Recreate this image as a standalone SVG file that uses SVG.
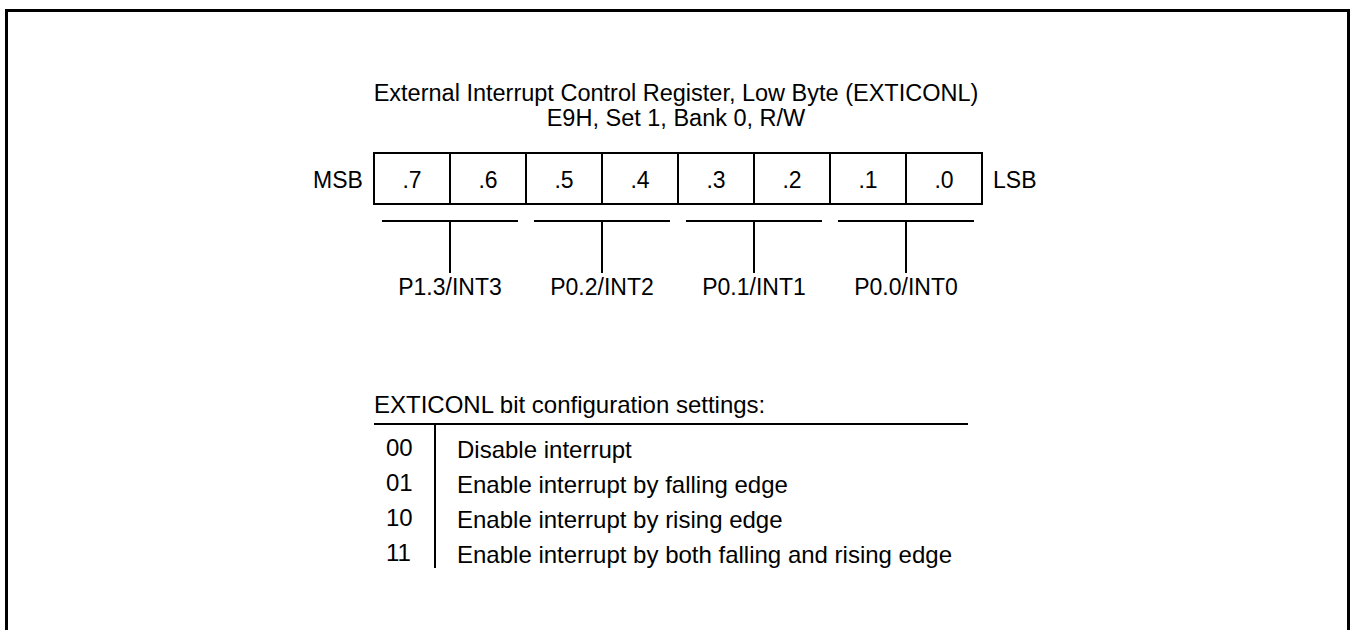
<svg xmlns="http://www.w3.org/2000/svg" width="1355" height="630" viewBox="0 0 1355 630">
<style>
text{font-family:"Liberation Sans",Arial,sans-serif;font-size:23px;fill:#000}
.c{text-anchor:middle}
.t{font-size:24px}
.ln{stroke:#000;stroke-width:2;fill:none}
</style>
<rect width="1355" height="630" fill="#fff"/>
<path d="M6.5,640 V10.5 H1348.5 V640" fill="none" stroke="#000" stroke-width="3"/>
<g id="title">
<text class="c" x="676" y="101" style="font-size:23.5px">External Interrupt Control Register, Low Byte (EXTICONL)</text>
<text class="c" x="676" y="126" style="font-size:23.5px">E9H, Set 1, Bank 0, R/W</text>
</g>
<g id="register">
<rect class="ln" x="374" y="153" width="608" height="51"/>
<path class="ln" d="M450,153V204M526,153V204M602,153V204M678,153V204M754,153V204M830,153V204M906,153V204"/>
<text x="313" y="188">MSB</text>
<text x="993" y="188">LSB</text>
<text class="c" x="412" y="188">.7</text>
<text class="c" x="488" y="188">.6</text>
<text class="c" x="564" y="188">.5</text>
<text class="c" x="640" y="188">.4</text>
<text class="c" x="716" y="188">.3</text>
<text class="c" x="792" y="188">.2</text>
<text class="c" x="868" y="188">.1</text>
<text class="c" x="944" y="188">.0</text>
</g>
<g id="connectors">
<path class="ln" d="M382,221H518M450,221V273M534,221H670M602,221V273M686,221H822M754,221V273M838,221H974M906,221V273"/>
</g>
<g id="labels">
<text class="c" x="450" y="295">P1.3/INT3</text>
<text class="c" x="602" y="295">P0.2/INT2</text>
<text class="c" x="754" y="295">P0.1/INT1</text>
<text class="c" x="906" y="295">P0.0/INT0</text>
</g>
<g id="settings">
<text class="t" x="374" y="413">EXTICONL bit configuration settings:</text>
<path class="ln" d="M374,424H968M435,424V568"/>
<text class="t" x="386" y="456">00</text>
<text class="t" x="386" y="491">01</text>
<text class="t" x="386" y="526">10</text>
<text class="t" x="386" y="561">11</text>
<text class="t" x="457" y="458">Disable interrupt</text>
<text class="t" x="457" y="493">Enable interrupt by falling edge</text>
<text class="t" x="457" y="528">Enable interrupt by rising edge</text>
<text class="t" x="457" y="563">Enable interrupt by both falling and rising edge</text>
</g>
</svg>
